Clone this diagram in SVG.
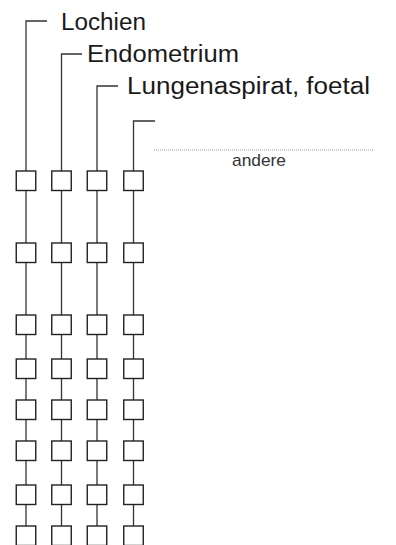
<svg xmlns="http://www.w3.org/2000/svg" width="396" height="545" viewBox="0 0 396 545">
<style>
.ln{stroke:#333;stroke-width:1.3;fill:none}
.bx{stroke:#222;stroke-width:1.4;fill:#fff}
.lbl{font-family:"Liberation Sans",Arial,sans-serif;font-size:23px;fill:#1a1a1a}
.sm{font-family:"Liberation Sans",Arial,sans-serif;font-size:17px;fill:#333}
</style>
<defs>
<rect id="b" width="19.5" height="19.5" class="bx"/>
</defs>
<g id="connectors">
<path class="ln" d="M47,21H26V545"/>
<path class="ln" d="M82,54H61.5V545"/>
<path class="ln" d="M118,86H97V545"/>
<path class="ln" d="M155,121H133.5V545"/>
<line x1="154" y1="150" x2="374" y2="150" stroke="#888" stroke-width="0.8" stroke-dasharray="1 1"/>
</g>
<g id="labels">
<text class="lbl" x="61" y="29.5" textLength="85" lengthAdjust="spacingAndGlyphs">Lochien</text>
<text class="lbl" x="87" y="61.5" textLength="152" lengthAdjust="spacingAndGlyphs">Endometrium</text>
<text class="lbl" x="127" y="93.5" textLength="243" lengthAdjust="spacingAndGlyphs">Lungenaspirat, foetal</text>
<text class="sm" x="232" y="166" textLength="54" lengthAdjust="spacingAndGlyphs">andere</text>
</g>
<g id="col1">
<use href="#b" x="16.25" y="171"/><use href="#b" x="16.25" y="243"/><use href="#b" x="16.25" y="315"/><use href="#b" x="16.25" y="359"/><use href="#b" x="16.25" y="400"/><use href="#b" x="16.25" y="441"/><use href="#b" x="16.25" y="485"/><use href="#b" x="16.25" y="526"/>
</g>
<g id="col2">
<use href="#b" x="51.75" y="171"/><use href="#b" x="51.75" y="243"/><use href="#b" x="51.75" y="315"/><use href="#b" x="51.75" y="359"/><use href="#b" x="51.75" y="400"/><use href="#b" x="51.75" y="441"/><use href="#b" x="51.75" y="485"/><use href="#b" x="51.75" y="526"/>
</g>
<g id="col3">
<use href="#b" x="87.25" y="171"/><use href="#b" x="87.25" y="243"/><use href="#b" x="87.25" y="315"/><use href="#b" x="87.25" y="359"/><use href="#b" x="87.25" y="400"/><use href="#b" x="87.25" y="441"/><use href="#b" x="87.25" y="485"/><use href="#b" x="87.25" y="526"/>
</g>
<g id="col4">
<use href="#b" x="123.75" y="171"/><use href="#b" x="123.75" y="243"/><use href="#b" x="123.75" y="315"/><use href="#b" x="123.75" y="359"/><use href="#b" x="123.75" y="400"/><use href="#b" x="123.75" y="441"/><use href="#b" x="123.75" y="485"/><use href="#b" x="123.75" y="526"/>
</g>
</svg>
